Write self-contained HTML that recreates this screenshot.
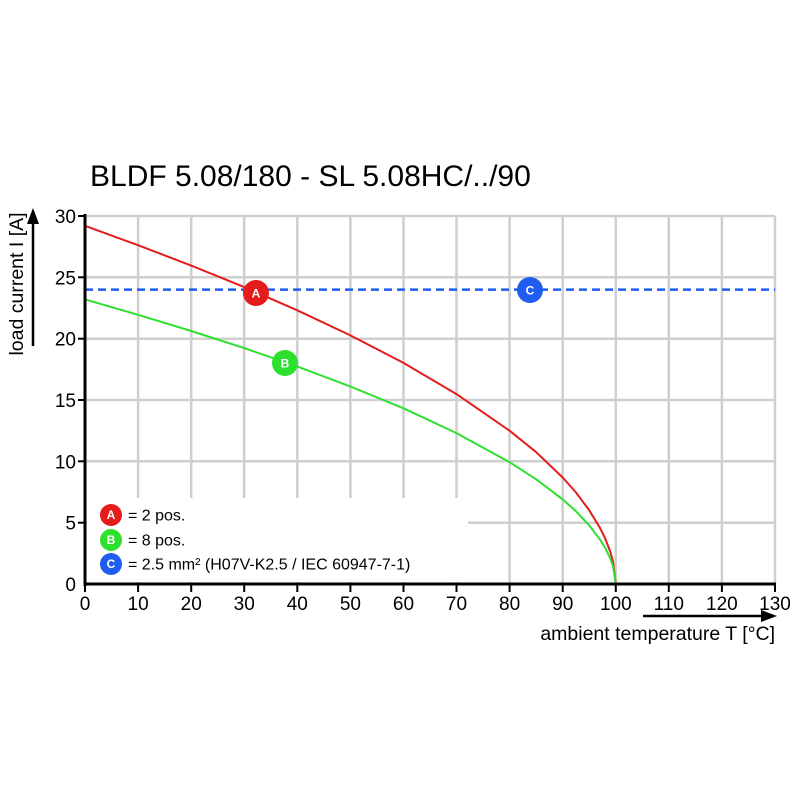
<!DOCTYPE html>
<html><head><meta charset="utf-8"><style>html,body{margin:0;padding:0;background:#fff}svg{display:block}text{font-family:"Liberation Sans",sans-serif}</style></head><body>
<svg width="800" height="800" viewBox="0 0 800 800">
<rect width="800" height="800" fill="#fff"/>
<g stroke="#cfcfcf" stroke-width="2.5" fill="none">
<line x1="85" y1="216" x2="775" y2="216"/>
<line x1="85" y1="277.3" x2="775" y2="277.3"/>
<line x1="85" y1="338.7" x2="775" y2="338.7"/>
<line x1="85" y1="400" x2="775" y2="400"/>
<line x1="85" y1="461.3" x2="775" y2="461.3"/>
<line x1="85" y1="522.7" x2="775" y2="522.7"/>
<line x1="138.1" y1="216" x2="138.1" y2="584"/>
<line x1="191.2" y1="216" x2="191.2" y2="584"/>
<line x1="244.2" y1="216" x2="244.2" y2="584"/>
<line x1="297.3" y1="216" x2="297.3" y2="584"/>
<line x1="350.4" y1="216" x2="350.4" y2="584"/>
<line x1="403.5" y1="216" x2="403.5" y2="584"/>
<line x1="456.5" y1="216" x2="456.5" y2="584"/>
<line x1="509.6" y1="216" x2="509.6" y2="584"/>
<line x1="562.7" y1="216" x2="562.7" y2="584"/>
<line x1="615.8" y1="216" x2="615.8" y2="584"/>
<line x1="668.8" y1="216" x2="668.8" y2="584"/>
<line x1="721.9" y1="216" x2="721.9" y2="584"/>
<line x1="775" y1="216" x2="775" y2="584"/>
</g>
<rect x="87" y="498" width="381" height="84" fill="#fff"/>
<line x1="85" y1="289.6" x2="775" y2="289.6" stroke="#1f5cf0" stroke-width="2.5" stroke-dasharray="8,5"/>
<path d="M85,225.8 L138.1,245.2 L191.2,265.6 L244.2,287.1 L297.3,310.3 L350.4,335.4 L403.5,362.9 L456.5,394.1 L509.6,430.7 L536.2,452.2 L562.7,477.5 L576,492.5 L589.2,510.2 L599.8,527.6 L605.2,538.5 L610.5,552.4 L613.1,562 L615.8,584" fill="none" stroke="#e51c1c" stroke-width="2" stroke-linejoin="round"/>
<path d="M85,299.4 L138.1,314.8 L191.2,331 L244.2,348.1 L297.3,366.5 L350.4,386.5 L403.5,408.3 L456.5,433.1 L509.6,462.2 L536.2,479.3 L562.7,499.4 L576,511.3 L589.2,525.4 L599.8,539.2 L605.2,547.9 L610.5,558.9 L613.1,566.5 L615.8,584" fill="none" stroke="#2ee02e" stroke-width="2" stroke-linejoin="round"/>
<g stroke="#000" stroke-width="3">
<line x1="85" y1="214" x2="85" y2="586"/>
<line x1="83.5" y1="584" x2="776" y2="584"/>
</g>
<g stroke="#000" stroke-width="2">
<line x1="78" y1="216" x2="85" y2="216"/><line x1="78" y1="277.3" x2="85" y2="277.3"/><line x1="78" y1="338.7" x2="85" y2="338.7"/><line x1="78" y1="400" x2="85" y2="400"/><line x1="78" y1="461.3" x2="85" y2="461.3"/><line x1="78" y1="522.7" x2="85" y2="522.7"/>
<line x1="138.1" y1="584" x2="138.1" y2="592"/><line x1="191.2" y1="584" x2="191.2" y2="592"/><line x1="244.2" y1="584" x2="244.2" y2="592"/><line x1="297.3" y1="584" x2="297.3" y2="592"/><line x1="350.4" y1="584" x2="350.4" y2="592"/><line x1="403.5" y1="584" x2="403.5" y2="592"/><line x1="456.5" y1="584" x2="456.5" y2="592"/><line x1="509.6" y1="584" x2="509.6" y2="592"/><line x1="562.7" y1="584" x2="562.7" y2="592"/><line x1="615.8" y1="584" x2="615.8" y2="592"/><line x1="668.8" y1="584" x2="668.8" y2="592"/><line x1="721.9" y1="584" x2="721.9" y2="592"/><line x1="775" y1="584" x2="775" y2="592"/>
<line x1="85" y1="584" x2="85" y2="592"/>
</g>
<g font-size="19" text-anchor="end" fill="#000">
<text x="76" y="223">30</text><text x="76" y="284.3">25</text><text x="76" y="345.7">20</text><text x="76" y="407">15</text><text x="76" y="468.3">10</text><text x="76" y="529.7">5</text><text x="76" y="591">0</text>
</g>
<g font-size="19" text-anchor="middle" fill="#000">
<text x="85" y="610">0</text><text x="138.1" y="610">10</text><text x="191.2" y="610">20</text><text x="244.2" y="610">30</text><text x="297.3" y="610">40</text><text x="350.4" y="610">50</text><text x="403.5" y="610">60</text><text x="456.5" y="610">70</text><text x="509.6" y="610">80</text><text x="562.7" y="610">90</text><text x="615.8" y="610">100</text><text x="668.8" y="610">110</text><text x="721.9" y="610">120</text><text x="775" y="610">130</text>
</g>
<text x="90" y="186" font-size="30" fill="#000">BLDF 5.08/180 - SL 5.08HC/../90</text>
<text transform="translate(23,284) rotate(-90)" font-size="19.5" text-anchor="middle" fill="#000">load current I [A]</text>
<line x1="33" y1="346" x2="33" y2="222" stroke="#000" stroke-width="2.5"/>
<polygon points="33,208 27,224 39,224" fill="#000"/>
<line x1="643" y1="616" x2="763" y2="616" stroke="#000" stroke-width="2.5"/>
<polygon points="777,616 761,610 761,622" fill="#000"/>
<text x="775" y="640" font-size="19.5" text-anchor="end" fill="#000">ambient temperature T [°C]</text>
<g font-size="12" font-weight="bold" text-anchor="middle" fill="#fff">
<circle cx="256" cy="293" r="13" fill="#e51c1c"/><text x="256" y="297.5">A</text>
<circle cx="285" cy="363" r="13" fill="#2ee02e"/><text x="285" y="367.5">B</text>
<circle cx="530" cy="290" r="13" fill="#1f5cf0"/><text x="530" y="294.5">C</text>
<circle cx="111" cy="515" r="11" fill="#e51c1c"/><text x="111" y="519">A</text>
<circle cx="111" cy="540" r="11" fill="#2ee02e"/><text x="111" y="544">B</text>
<circle cx="111" cy="564" r="11" fill="#1f5cf0"/><text x="111" y="568">C</text>
</g>
<g font-size="16" fill="#000">
<text x="128" y="520.5">= 2 pos.</text>
<text x="128" y="545.5">= 8 pos.</text>
<text x="128" y="569.5">= 2.5 mm² (H07V-K2.5 / IEC 60947-7-1)</text>
</g>
</svg>
</body></html>
